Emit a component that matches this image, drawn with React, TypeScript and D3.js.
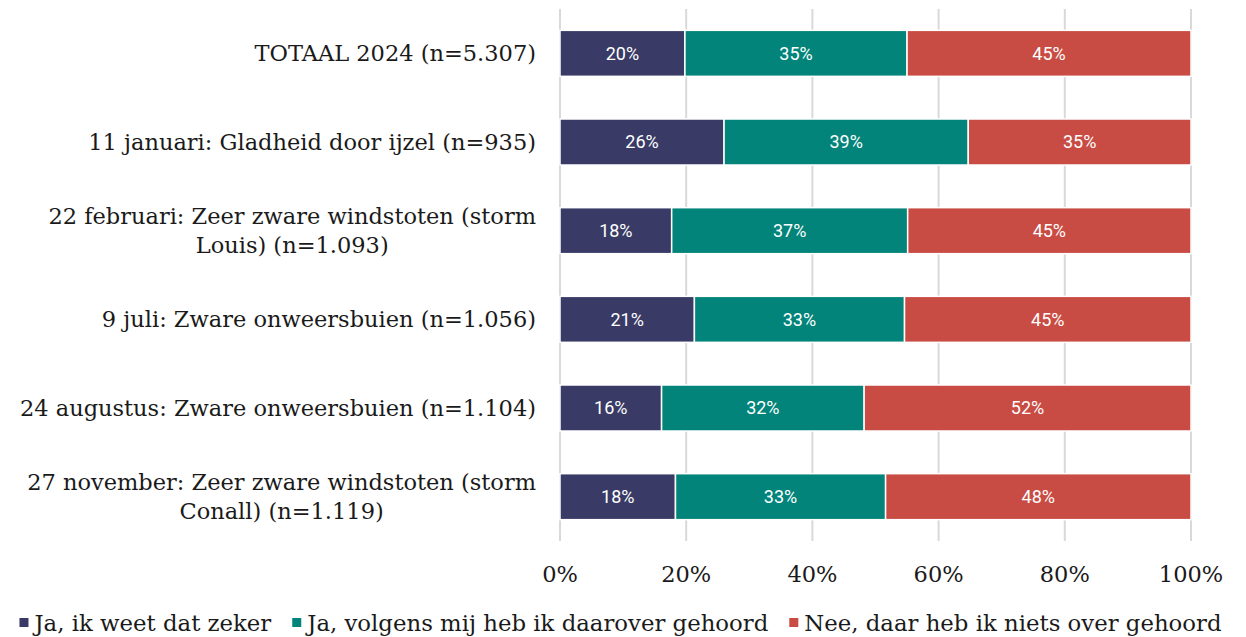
import React, { useEffect, useRef } from 'react';
import * as d3 from 'd3';

const categories = [
  ['TOTAAL 2024 (n=5.307)'],
  ['11 januari: Gladheid door ijzel (n=935)'],
  ['22 februari: Zeer zware windstoten (storm', 'Louis) (n=1.093)'],
  ['9 juli: Zware onweersbuien (n=1.056)'],
  ['24 augustus: Zware onweersbuien (n=1.104)'],
  ['27 november: Zeer zware windstoten (storm', 'Conall) (n=1.119)'],
];

const seriesNames = [
  'Ja, ik weet dat zeker',
  'Ja, volgens mij heb ik daarover gehoord',
  'Nee, daar heb ik niets over gehoord',
];
const seriesColors = ['#393b66', '#02847a', '#c94c44'];

const jaZeker = [19.8, 26.0, 17.7, 21.3, 16.1, 18.3];
const jaVolgens = [35.2, 38.7, 37.4, 33.3, 32.1, 33.3];
const nee = [45.0, 35.3, 44.9, 45.4, 51.8, 48.4];

const ticks = [0, 20, 40, 60, 80, 100];

const W = 1246;
const H = 637;
const serif = '"DejaVu Serif", serif';

export default function App() {
  const svgRef = useRef<SVGSVGElement>(null);

  useEffect(() => {
    const svg = d3.select(svgRef.current);
    svg.selectAll('*').remove();

    const x = d3.scaleLinear().domain([0, 100]).range([560, 1191]);
    const y = d3
      .scaleBand<number>()
      .domain(d3.range(categories.length))
      .range([9, 541]);
    const barH = 46;

    // gridlines
    svg
      .append('g')
      .selectAll('line')
      .data(ticks)
      .enter()
      .append('line')
      .attr('x1', (d) => x(d))
      .attr('x2', (d) => x(d))
      .attr('y1', 9)
      .attr('y2', 541)
      .attr('stroke', '#d9d9d9')
      .attr('stroke-width', 2);

    // stacked bars
    const rows = categories.map((_, i) => [jaZeker[i], jaVolgens[i], nee[i]]);
    rows.forEach((vals, i) => {
      let acc = 0;
      const cy = (y(i) as number) + y.bandwidth() / 2;
      vals.forEach((v, s) => {
        const x0 = x(acc);
        const x1 = x(acc + v);
        acc += v;
        svg
          .append('rect')
          .attr('x', x0)
          .attr('y', cy - barH / 2)
          .attr('width', x1 - x0)
          .attr('height', barH)
          .attr('fill', seriesColors[s])
          .attr('stroke', '#fff')
          .attr('stroke-width', 1.5);
        svg
          .append('text')
          .attr('x', (x0 + x1) / 2)
          .attr('y', cy)
          .attr('dy', '0.35em')
          .attr('text-anchor', 'middle')
          .attr('fill', '#fff')
          .style('font-family', 'Roboto, sans-serif')
          .style('font-size', '18px')
          .text(`${Math.round(v)}%`);
      });
    });

    // category labels (multi-line blocks, right aligned, lines centered)
    const labelRight = 536;
    categories.forEach((lines, i) => {
      const cy = (y(i) as number) + y.bandwidth() / 2;
      const g = svg.append('g');
      const lh = 29;
      const texts = lines.map((ln, k) =>
        g
          .append('text')
          .attr('y', cy + (k - (lines.length - 1) / 2) * lh)
          .attr('dy', '0.35em')
          .attr('text-anchor', 'middle')
          .attr('fill', '#1a1a1a')
          .style('font-family', serif)
          .style('font-size', '22.5px')
          .text(ln)
      );
      const widths = texts.map((t) => (t.node() as SVGTextElement).getComputedTextLength());
      const maxW = d3.max(widths) || 0;
      texts.forEach((t) => t.attr('x', labelRight - maxW / 2));
    });

    // x tick labels
    svg
      .append('g')
      .selectAll('text')
      .data(ticks)
      .enter()
      .append('text')
      .attr('x', (d) => x(d))
      .attr('y', 582)
      .attr('text-anchor', 'middle')
      .attr('fill', '#1a1a1a')
      .style('font-family', serif)
      .style('font-size', '22.5px')
      .text((d) => `${d}%`);

    // legend
    const legend = svg.append('g');
    const gap = 21;
    let cx = 0;
    seriesNames.forEach((name, s) => {
      legend
        .append('rect')
        .attr('x', cx)
        .attr('y', 618)
        .attr('width', 9)
        .attr('height', 9)
        .attr('fill', seriesColors[s]);
      const t = legend
        .append('text')
        .attr('x', cx + 15)
        .attr('y', 631)
        .attr('fill', '#1a1a1a')
        .style('font-family', serif)
        .style('font-size', '22.8px')
        .text(name);
      cx += 15 + (t.node() as SVGTextElement).getComputedTextLength() + gap;
    });
    const total = cx - gap;
    legend.attr('transform', `translate(${(12 + 1229) / 2 - total / 2},0)`);
  }, []);

  return (
    <svg
      ref={svgRef}
      width={W}
      height={H}
      style={{ position: 'absolute', left: 0, top: 0, background: '#fff' }}
    />
  );
}
